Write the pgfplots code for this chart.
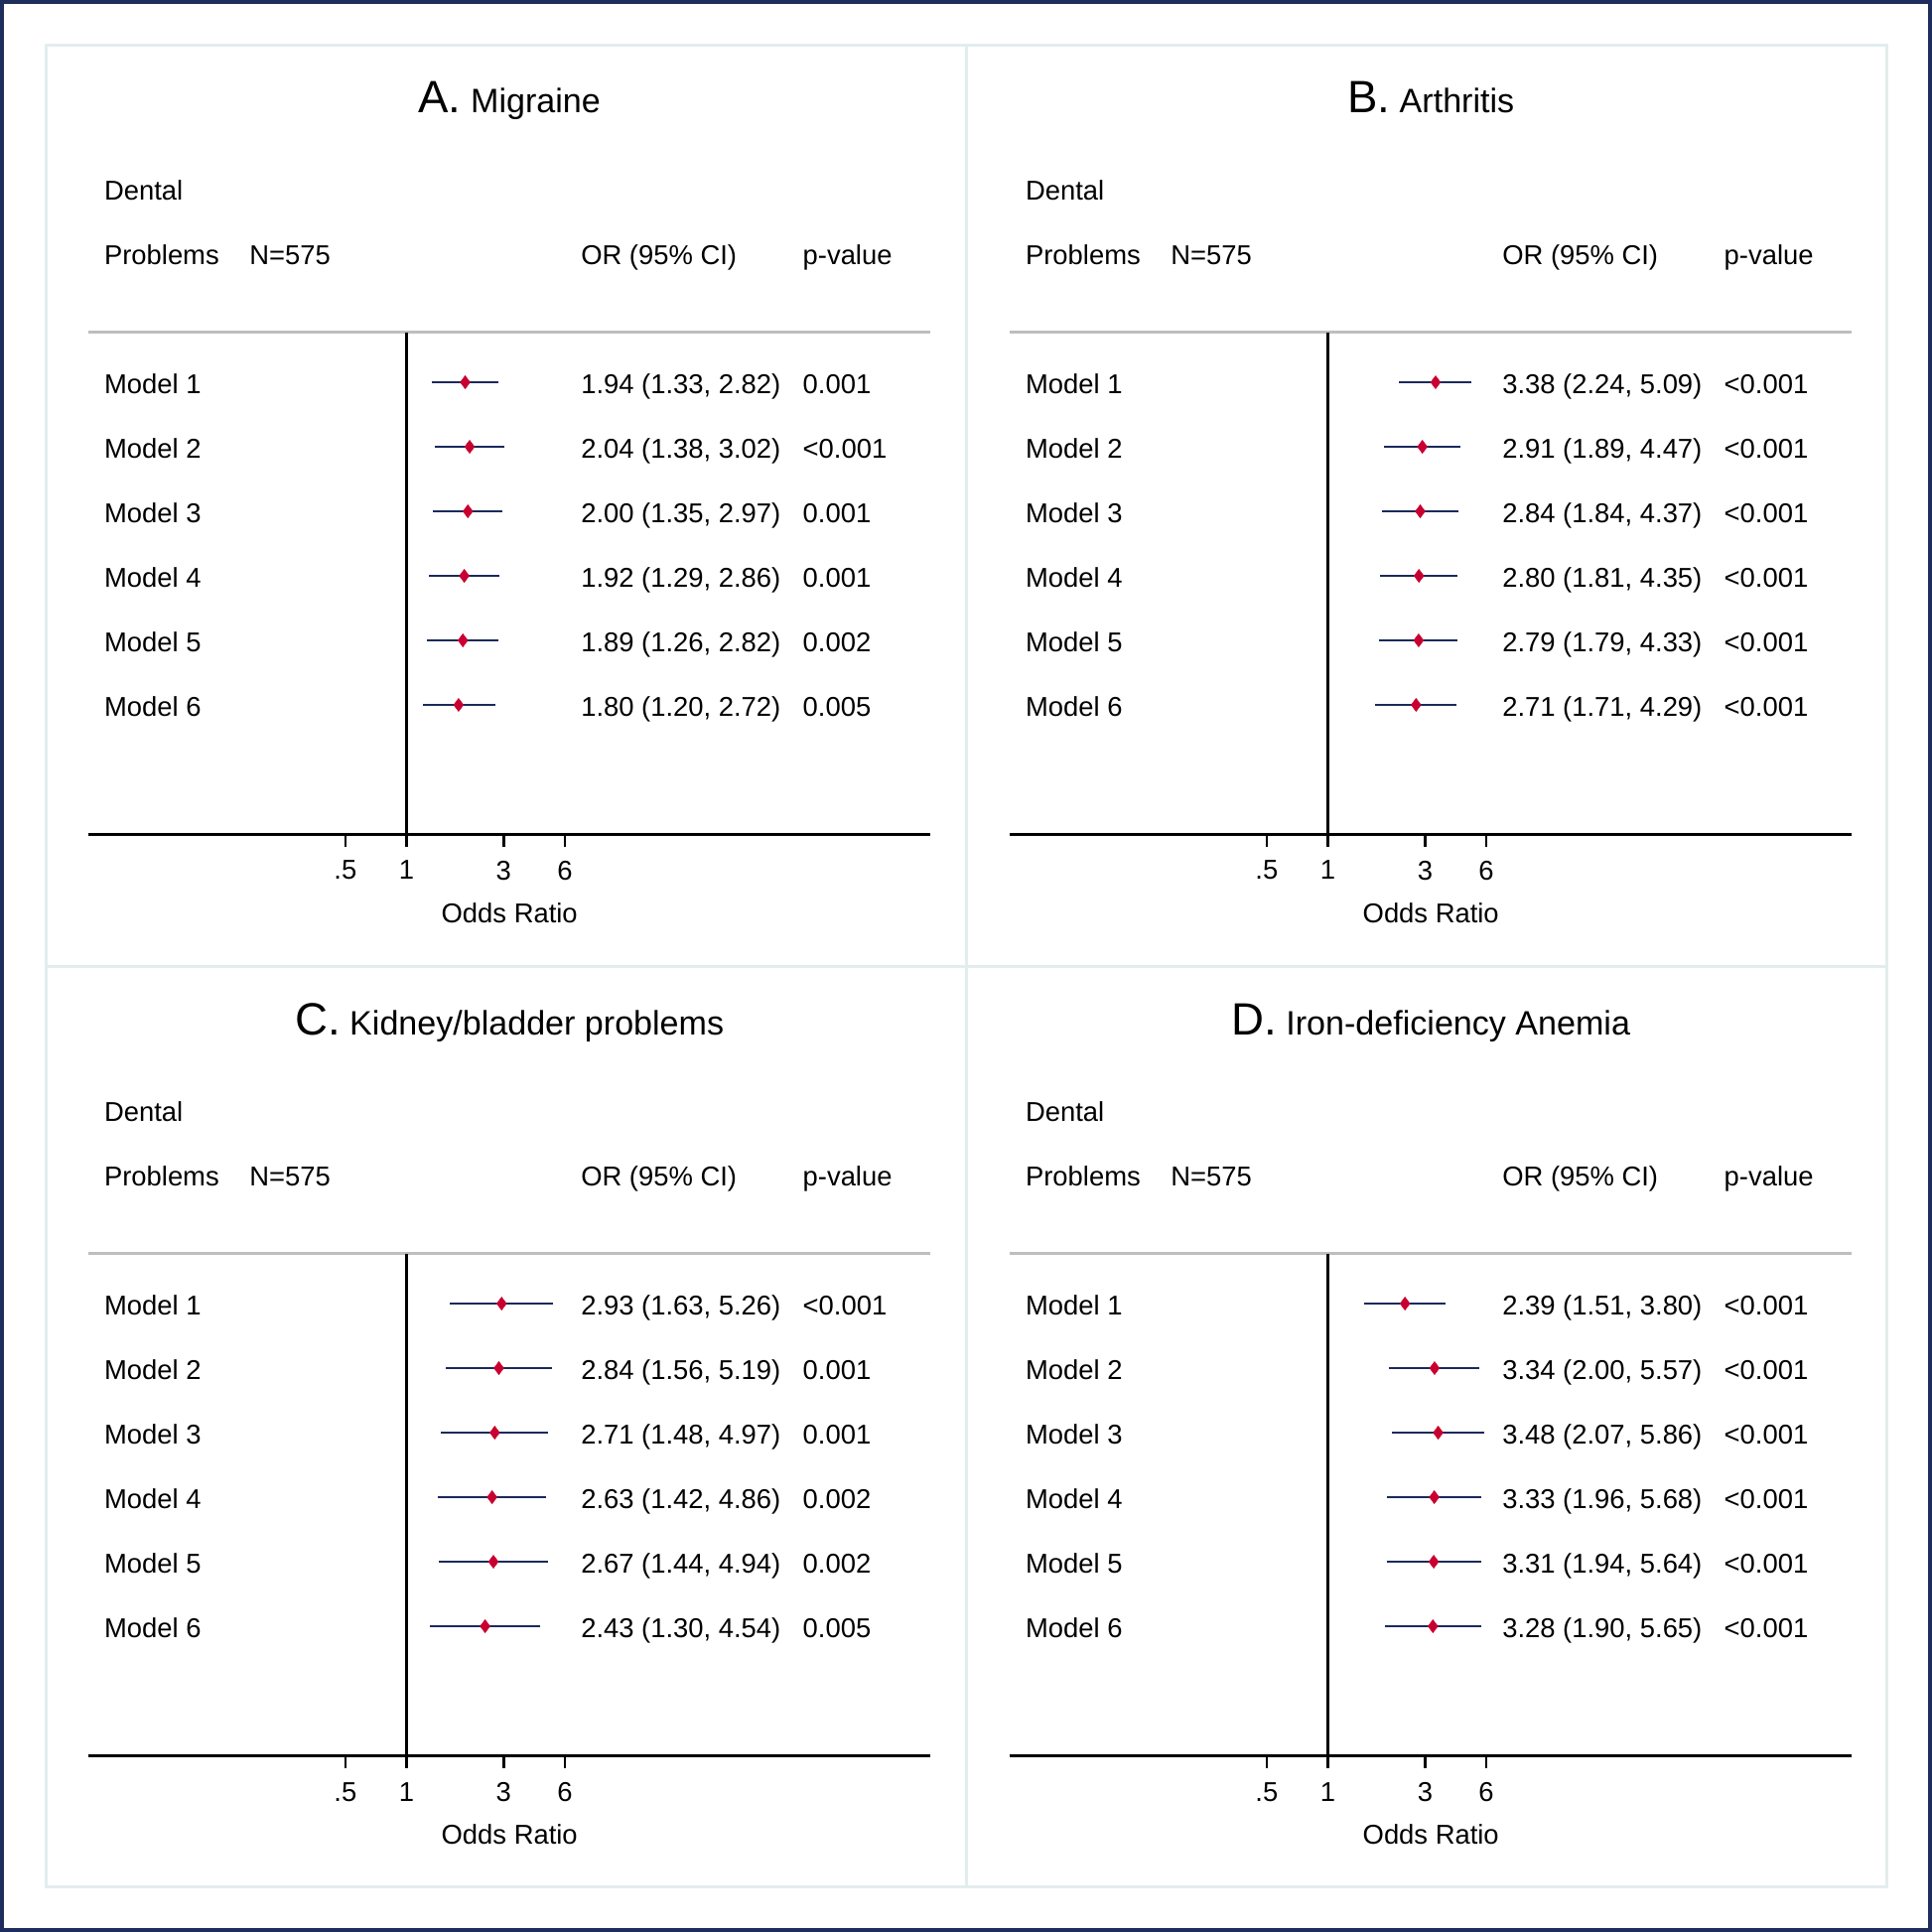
\documentclass[border=0pt]{standalone}
\usepackage{fontspec}
\setmainfont{Liberation Sans}
\usepackage{pgfplots}
\pgfplotsset{compat=1.18}
\definecolor{navy}{HTML}{1F2D5C}
\definecolor{panelline}{HTML}{E4EDED}
\definecolor{cicol}{HTML}{1B2A5C}
\definecolor{ptcol}{HTML}{C80030}
\definecolor{sepgray}{HTML}{BEBEBE}
\newcommand{\bodyfont}{\fontsize{6.85}{8.2}\selectfont}
\tikzset{txt/.style={anchor=base west, yshift=-2.8pt, inner sep=0pt, font=\bodyfont}}
\pgfplotsset{
cistyle/.style={cicol, line width=0.5pt, mark=none},
ormark/.style={only marks, mark=diamond*, mark size=1.65pt, color=ptcol, mark options={fill=ptcol, draw=ptcol, line width=0.1pt}},
refl/.style={black, line width=0.6pt, mark=none}
}
\newcommand{\hdr}{%
\node[txt] at (axis cs:0.03238,2) {Dental};
\node[txt] at (axis cs:0.03238,1) {Problems};
\node[txt] at (axis cs:0.1677,1) {N=575};
\node[txt] at (axis cs:7.137,1) {OR (95\% CI)};
\node[txt] at (axis cs:87.8,1) {p-value};
\draw[sepgray, line width=0.75pt] (rel axis cs:0,1) -- (rel axis cs:1,1);
\addplot[refl] coordinates {(1,-8) (1,-0.23)};
}
\newcommand{\ttl}[2]{\node[anchor=base, inner sep=0pt] at (axis cs:3.203,3.17) {\fontsize{11.4}{13}\selectfont #1\fontsize{8.52}{10}\selectfont\ #2};}
\newcommand{\row}[3]{%
\node[txt] at (axis cs:0.03238,-#1) {Model #1};
\node[txt] at (axis cs:7.137,-#1) {#2};
\node[txt] at (axis cs:87.8,-#1) {#3};}
\begin{document}
\begin{tikzpicture}
\useasboundingbox (0pt,0pt) rectangle (486.5pt,-486.5pt);
\fill[white] (0pt,0pt) rectangle (486.5pt,-486.5pt);
\draw[navy, line width=1pt] (0.5pt,-0.5pt) rectangle (486pt,-486pt);
\draw[panelline, line width=0.75pt] (11.5pt,-11.5pt) rectangle (475pt,-475pt) (243.25pt,-11.5pt)--(243.25pt,-475pt) (11.5pt,-243.25pt)--(475pt,-243.25pt);

% A
\begin{axis}[at={(22.35pt,-210pt)}, anchor=south west,
 scale only axis, width=211.9pt, height=126.26pt,
 xmode=log, xmin=0.0274, xmax=374.6, ymin=-8, ymax=-0.23,
 axis x line*=bottom, hide y axis, x axis line style={-, line width=0.75pt, black},
 xtick={0.5,1,3,6}, xticklabels={.5,1,3,6}, xminorticks=false,
 tick align=outside, major tick length=3.25pt, xtick style={black, line width=0.6pt},
 tick label style={font=\bodyfont},
 clip=false,
 xlabel={Odds Ratio},
 xlabel style={at={(rel axis cs:0.5,0)}, anchor=base, yshift=-22.3pt, font=\bodyfont}]
\hdr
\addplot[cistyle] coordinates {(1.33,-1) (2.82,-1)};
\addplot[cistyle] coordinates {(1.38,-2) (3.02,-2)};
\addplot[cistyle] coordinates {(1.35,-3) (2.97,-3)};
\addplot[cistyle] coordinates {(1.29,-4) (2.86,-4)};
\addplot[cistyle] coordinates {(1.26,-5) (2.82,-5)};
\addplot[cistyle] coordinates {(1.20,-6) (2.72,-6)};
\addplot[ormark] coordinates {(1.94,-1) (2.04,-2) (2.00,-3) (1.92,-4) (1.89,-5) (1.80,-6)};
\ttl{A.}{Migraine}
\row{1}{1.94 (1.33, 2.82)}{0.001}
\row{2}{2.04 (1.38, 3.02)}{<0.001}
\row{3}{2.00 (1.35, 2.97)}{0.001}
\row{4}{1.92 (1.29, 2.86)}{0.001}
\row{5}{1.89 (1.26, 2.82)}{0.002}
\row{6}{1.80 (1.20, 2.72)}{0.005}
\end{axis}

% B
\begin{axis}[at={(254.35pt,-210pt)}, anchor=south west,
 scale only axis, width=211.9pt, height=126.26pt,
 xmode=log, xmin=0.0274, xmax=374.6, ymin=-8, ymax=-0.23,
 axis x line*=bottom, hide y axis, x axis line style={-, line width=0.75pt, black},
 xtick={0.5,1,3,6}, xticklabels={.5,1,3,6}, xminorticks=false,
 tick align=outside, major tick length=3.25pt, xtick style={black, line width=0.6pt},
 tick label style={font=\bodyfont},
 clip=false,
 xlabel={Odds Ratio},
 xlabel style={at={(rel axis cs:0.5,0)}, anchor=base, yshift=-22.3pt, font=\bodyfont}]
\hdr
\addplot[cistyle] coordinates {(2.24,-1) (5.09,-1)};
\addplot[cistyle] coordinates {(1.89,-2) (4.47,-2)};
\addplot[cistyle] coordinates {(1.84,-3) (4.37,-3)};
\addplot[cistyle] coordinates {(1.81,-4) (4.35,-4)};
\addplot[cistyle] coordinates {(1.79,-5) (4.33,-5)};
\addplot[cistyle] coordinates {(1.71,-6) (4.29,-6)};
\addplot[ormark] coordinates {(3.38,-1) (2.91,-2) (2.84,-3) (2.80,-4) (2.79,-5) (2.71,-6)};
\ttl{B.}{Arthritis}
\row{1}{3.38 (2.24, 5.09)}{<0.001}
\row{2}{2.91 (1.89, 4.47)}{<0.001}
\row{3}{2.84 (1.84, 4.37)}{<0.001}
\row{4}{2.80 (1.81, 4.35)}{<0.001}
\row{5}{2.79 (1.79, 4.33)}{<0.001}
\row{6}{2.71 (1.71, 4.29)}{<0.001}
\end{axis}

% C
\begin{axis}[at={(22.35pt,-442pt)}, anchor=south west,
 scale only axis, width=211.9pt, height=126.26pt,
 xmode=log, xmin=0.0274, xmax=374.6, ymin=-8, ymax=-0.23,
 axis x line*=bottom, hide y axis, x axis line style={-, line width=0.75pt, black},
 xtick={0.5,1,3,6}, xticklabels={.5,1,3,6}, xminorticks=false,
 tick align=outside, major tick length=3.25pt, xtick style={black, line width=0.6pt},
 tick label style={font=\bodyfont},
 clip=false,
 xlabel={Odds Ratio},
 xlabel style={at={(rel axis cs:0.5,0)}, anchor=base, yshift=-22.3pt, font=\bodyfont}]
\hdr
\addplot[cistyle] coordinates {(1.63,-1) (5.26,-1)};
\addplot[cistyle] coordinates {(1.56,-2) (5.19,-2)};
\addplot[cistyle] coordinates {(1.48,-3) (4.97,-3)};
\addplot[cistyle] coordinates {(1.42,-4) (4.86,-4)};
\addplot[cistyle] coordinates {(1.44,-5) (4.94,-5)};
\addplot[cistyle] coordinates {(1.30,-6) (4.54,-6)};
\addplot[ormark] coordinates {(2.93,-1) (2.84,-2) (2.71,-3) (2.63,-4) (2.67,-5) (2.43,-6)};
\ttl{C.}{Kidney/bladder problems}
\row{1}{2.93 (1.63, 5.26)}{<0.001}
\row{2}{2.84 (1.56, 5.19)}{0.001}
\row{3}{2.71 (1.48, 4.97)}{0.001}
\row{4}{2.63 (1.42, 4.86)}{0.002}
\row{5}{2.67 (1.44, 4.94)}{0.002}
\row{6}{2.43 (1.30, 4.54)}{0.005}
\end{axis}

% D
\begin{axis}[at={(254.35pt,-442pt)}, anchor=south west,
 scale only axis, width=211.9pt, height=126.26pt,
 xmode=log, xmin=0.0274, xmax=374.6, ymin=-8, ymax=-0.23,
 axis x line*=bottom, hide y axis, x axis line style={-, line width=0.75pt, black},
 xtick={0.5,1,3,6}, xticklabels={.5,1,3,6}, xminorticks=false,
 tick align=outside, major tick length=3.25pt, xtick style={black, line width=0.6pt},
 tick label style={font=\bodyfont},
 clip=false,
 xlabel={Odds Ratio},
 xlabel style={at={(rel axis cs:0.5,0)}, anchor=base, yshift=-22.3pt, font=\bodyfont}]
\hdr
\addplot[cistyle] coordinates {(1.51,-1) (3.80,-1)};
\addplot[cistyle] coordinates {(2.00,-2) (5.57,-2)};
\addplot[cistyle] coordinates {(2.07,-3) (5.86,-3)};
\addplot[cistyle] coordinates {(1.96,-4) (5.68,-4)};
\addplot[cistyle] coordinates {(1.94,-5) (5.64,-5)};
\addplot[cistyle] coordinates {(1.90,-6) (5.65,-6)};
\addplot[ormark] coordinates {(2.39,-1) (3.34,-2) (3.48,-3) (3.33,-4) (3.31,-5) (3.28,-6)};
\ttl{D.}{Iron-deficiency Anemia}
\row{1}{2.39 (1.51, 3.80)}{<0.001}
\row{2}{3.34 (2.00, 5.57)}{<0.001}
\row{3}{3.48 (2.07, 5.86)}{<0.001}
\row{4}{3.33 (1.96, 5.68)}{<0.001}
\row{5}{3.31 (1.94, 5.64)}{<0.001}
\row{6}{3.28 (1.90, 5.65)}{<0.001}
\end{axis}
\end{tikzpicture}
\end{document}
